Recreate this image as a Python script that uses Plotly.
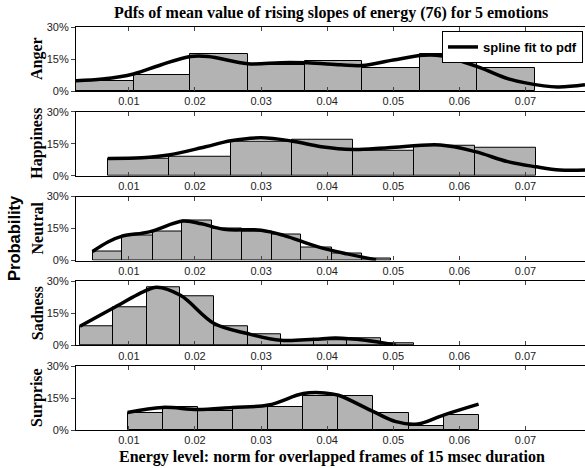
import plotly.graph_objects as go

emotions = ["Anger", "Happiness", "Neutral", "Sadness", "Surprise"]

# histogram bin edges and probabilities (%)
anger_edges = [0.0020, 0.0107, 0.0193, 0.0280, 0.0366, 0.0453, 0.0540, 0.0627, 0.0714]
anger_pdf = [4.9, 7.7, 17.2, 12.2, 14.1, 10.9, 17.2, 10.9]
happy_edges = [0.0068, 0.0160, 0.0254, 0.0346, 0.0439, 0.0531, 0.0624, 0.0716]
happy_pdf = [7.8, 8.9, 15.9, 17.0, 11.9, 14.1, 13.1]
neutral_edges = [0.0045, 0.0090, 0.0136, 0.0181, 0.0226, 0.0271, 0.0316, 0.0361, 0.0407, 0.0452, 0.0497]
neutral_pdf = [4.2, 11.8, 13.8, 18.8, 14.9, 13.8, 12.2, 6.0, 3.1, 1.1]
sad_edges = [0.0026, 0.0076, 0.0127, 0.0178, 0.0229, 0.0280, 0.0330, 0.0380, 0.0430, 0.0481, 0.0531]
sad_pdf = [8.9, 18.0, 27.0, 23.0, 8.9, 5.0, 2.3, 2.3, 3.1, 0.8]
surprise_edges = [0.0098, 0.0151, 0.0204, 0.0258, 0.0311, 0.0364, 0.0417, 0.0470, 0.0523, 0.0576, 0.0629]
surprise_pdf = [7.8, 10.9, 8.9, 10.6, 10.9, 16.0, 15.9, 8.1, 1.9, 7.0]

# spline fit curves
anger_fit_x = [0.002, 0.006, 0.0107, 0.0148, 0.0193, 0.022, 0.028, 0.033, 0.037, 0.042, 0.0453, 0.050, 0.0545, 0.0572, 0.0628, 0.0673, 0.070, 0.0748, 0.079]
anger_fit_y = [4.8, 5.6, 8.0, 12.2, 16.2, 16.2, 12.8, 13.3, 13.2, 12.3, 11.9, 14.5, 16.7, 16.5, 11.3, 5.8, 3.8, 1.9, 2.9]
happy_fit_x = [0.0068, 0.0120, 0.0160, 0.0216, 0.0254, 0.0300, 0.0346, 0.0391, 0.0439, 0.0492, 0.0571, 0.0624, 0.0673, 0.0716, 0.0752, 0.079]
happy_fit_y = [8.1, 8.4, 9.7, 13.6, 16.4, 17.8, 16.3, 13.6, 12.3, 13.1, 14.4, 11.3, 6.6, 4.2, 2.7, 2.7]
neutral_fit_x = [0.0045, 0.0069, 0.0090, 0.0131, 0.0182, 0.0210, 0.0244, 0.0300, 0.0334, 0.0385, 0.0430, 0.0474]
neutral_fit_y = [4.2, 8.8, 11.4, 13.4, 18.5, 17.2, 14.6, 14.2, 11.8, 6.5, 3.1, 0.3]
sad_fit_x = [0.0026, 0.0075, 0.0127, 0.0142, 0.0178, 0.0229, 0.0279, 0.0330, 0.0380, 0.0413, 0.0458, 0.0504]
sad_fit_y = [8.9, 17.2, 25.8, 27.2, 23.4, 10.2, 5.5, 2.3, 2.8, 3.4, 2.3, 0.0]
surprise_fit_x = [0.0098, 0.0151, 0.0204, 0.0257, 0.0311, 0.0364, 0.0396, 0.0417, 0.0470, 0.0504, 0.0537, 0.0576, 0.0629]
surprise_fit_y = [8.2, 10.6, 9.6, 10.6, 11.7, 17.1, 17.4, 16.3, 8.6, 3.9, 2.8, 7.0, 12.1]

x_ticks = [0.01, 0.02, 0.03, 0.04, 0.05, 0.06, 0.07]
x_tick_labels = ["0.01", "0.02", "0.03", "0.04", "0.05", "0.06", "0.07"]
y_ticks = [0, 15, 30]
y_tick_labels = ["0%", "15%", "30%"]

edges_all = [anger_edges, happy_edges, neutral_edges, sad_edges, surprise_edges]
pdf_all = [anger_pdf, happy_pdf, neutral_pdf, sad_pdf, surprise_pdf]
fit_all = [(anger_fit_x, anger_fit_y), (happy_fit_x, happy_fit_y), (neutral_fit_x, neutral_fit_y),
           (sad_fit_x, sad_fit_y), (surprise_fit_x, surprise_fit_y)]

W, H = 585, 468
ML, MR, MT, MB = 76, 0, 27, 468 - 430
pw = W - ML - MR
ph = H - MT - MB


def fx_(ref_x):
    return (ref_x - ML) / pw


def fy_(ref_y):
    return (H - MB - ref_y) / ph


tops = [27, 111.75, 196.5, 281.25, 366]
plot_h = 64

fig = go.Figure()
serif = "Liberation Serif, Times New Roman, serif"
sans = "Liberation Sans, Arial, sans-serif"

layout = {}
for i, (edges, pdf, (fx, fy)) in enumerate(zip(edges_all, pdf_all, fit_all)):
    n = i + 1
    xa = "x" if n == 1 else f"x{n}"
    ya = "y" if n == 1 else f"y{n}"
    centers = [(edges[k] + edges[k + 1]) / 2 for k in range(len(pdf))]
    widths = [edges[k + 1] - edges[k] for k in range(len(pdf))]
    fig.add_trace(go.Bar(x=centers, y=pdf, width=widths, xaxis=xa, yaxis=ya,
                         marker=dict(color="#b3b3b3", line=dict(color="black", width=1)),
                         showlegend=False))
    fig.add_trace(go.Scatter(x=fx, y=fy, mode="lines", xaxis=xa, yaxis=ya,
                             line=dict(color="black", width=3.5, shape="spline", smoothing=1.0),
                             name="<b>spline fit to pdf</b>", showlegend=(i == 0)))
    top = tops[i]
    bot = top + plot_h
    d0 = fy_(bot)
    d1 = fy_(top)
    layout["xaxis" if n == 1 else f"xaxis{n}"] = dict(
        domain=[0, 1], range=[0.002, 0.079], anchor=ya,
        tickvals=x_ticks, ticktext=x_tick_labels, ticks="inside", ticklen=4,
        showline=True, linecolor="black", linewidth=1.2, mirror="allticks",
        showgrid=False, zeroline=False,
        tickfont=dict(family=sans, size=11, color="#222"))
    layout["yaxis" if n == 1 else f"yaxis{n}"] = dict(
        domain=[d0, d1], range=[0, 30], anchor=xa,
        tickvals=y_ticks, ticktext=y_tick_labels, ticks="outside", ticklen=4,
        showline=True, linecolor="black", linewidth=1.2, mirror=False,
        showgrid=False, zeroline=False,
        tickfont=dict(family=sans, size=11, color="#222"))
    fig.add_annotation(text="<b>" + emotions[i] + "</b>", xref="paper", yref="paper",
                       x=fx_(37), y=(d0 + d1) / 2, textangle=-90,
                       showarrow=False, font=dict(family=serif, size=16, color="black"),
                       xanchor="center", yanchor="middle")

fig.update_layout(**layout)

fig.add_annotation(text="<b>Pdfs of mean value of rising slopes of energy (76) for 5 emotions</b>",
                   xref="paper", yref="paper", x=fx_(331), y=fy_(12.5),
                   showarrow=False, font=dict(family=serif, size=16, color="black"),
                   xanchor="center", yanchor="middle")
fig.add_annotation(text="<b>Energy level: norm for overlapped frames of 15 msec duration</b>",
                   xref="paper", yref="paper", x=fx_(332), y=fy_(457),
                   showarrow=False, font=dict(family=serif, size=16, color="black"),
                   xanchor="center", yanchor="middle")
fig.add_annotation(text="<b>Probability</b>", xref="paper", yref="paper",
                   x=fx_(14), y=fy_(238), textangle=-90,
                   showarrow=False, font=dict(family=sans, size=16.5, color="black"),
                   xanchor="center", yanchor="middle")

fig.update_layout(
    width=W, height=H, margin=dict(l=ML, r=MR, t=MT, b=MB),
    plot_bgcolor="white", paper_bgcolor="white", bargap=0,
    legend=dict(x=fx_(583), y=fy_(31), xanchor="right", yanchor="top",
                bordercolor="black", borderwidth=1, bgcolor="white",
                font=dict(family=sans, size=13, color="black"),
                tracegroupgap=0, itemwidth=30),
)
fig.write_html("out.html", config={"displayModeBar": False},
               post_script="document.body.style.margin='0px';document.body.style.overflow='hidden';")
